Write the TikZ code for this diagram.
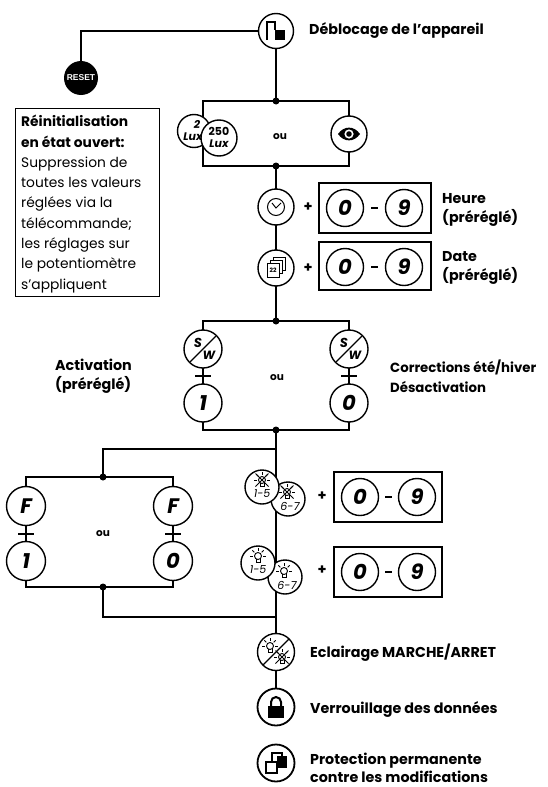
\documentclass[tikz,border=0pt]{standalone}
\usepackage{fontspec}
\setmainfont{Poppins}
\newfontfamily\arialf{Liberation Sans}
\usetikzlibrary{backgrounds,calc}
\newcommand\lblfont{\fontsize{14.3}{19.5}\selectfont\bfseries}
\newcommand\digfont{\fontsize{21}{21}\selectfont\bfseries\itshape}
\newcommand\smfont{\fontsize{11}{11}\selectfont\bfseries\itshape}
\newcommand\lampon[1]{%
  \begin{scope}[shift={#1},line width=0.9pt]
    \draw (0,0) circle (3.5);
    \draw (-2,3.3) -- (-2,6) -- (2,6) -- (2,3.3);
    \foreach \a in {0,45,90,135,180} {\draw ({5.3*cos(\a)},{-5.3*sin(\a)}) -- ({8*cos(\a)},{-8*sin(\a)});}
  \end{scope}}
\newcommand\lampoff[1]{%
  \begin{scope}[shift={#1},line width=0.9pt]
    \draw (0,0) circle (3.5);
    \draw (-2,3.3) -- (-2,6) -- (2,6) -- (2,3.3);
    \foreach \a in {0,45,90,135,180} {\draw ({5.3*cos(\a)},{-5.3*sin(\a)}) -- ({8*cos(\a)},{-8*sin(\a)});}
    \draw (-6.5,-6.5) -- (6.5,6.5) (6.5,-6.5) -- (-6.5,6.5);
  \end{scope}}
\begin{document}
\begin{tikzpicture}[x=1pt,y=-1pt,
  conn/.style={line width=2.4pt},
  circ/.style={circle,draw,fill=white,line width=1.4pt,minimum size=35pt,inner sep=0pt},
  digit/.style={circ,minimum size=37pt,font=\digfont},
  jdot/.style={circle,fill,inner sep=0pt,minimum size=7pt},
  lbl/.style={anchor=west,align=left,font=\lblfont,inner sep=0pt},
  digbox/.style={draw,line width=2.4pt,minimum width=112pt,minimum height=50pt,inner sep=0pt},
  oulbl/.style={font=\fontsize{10.5}{10.5}\selectfont\bfseries,inner sep=0pt},
  daylbl/.style={font=\fontsize{11}{11}\selectfont\itshape,inner sep=0pt},
  tickmk/.style={line width=2pt}]
\useasboundingbox (0,0) rectangle (547,787);

% ---------- coordinates ----------
\coordinate (dcorner) at (81,31);
\coordinate (j1) at (276,101);
\coordinate (j2) at (276,166);
\coordinate (b1a) at (203,101);
\coordinate (b1b) at (349,166);
\coordinate (j3) at (276,321);
\coordinate (j4) at (276,430);
\coordinate (b3a) at (203,321);
\coordinate (b3b) at (349,430);
\coordinate (j8) at (276,449);
\coordinate (k1) at (103,449);
\coordinate (j5) at (103,477);
\coordinate (j6) at (103,587);
\coordinate (b4a) at (26,477);
\coordinate (b4b) at (173,587);
\coordinate (k2) at (103,617);
\coordinate (j7) at (276,617);

% ---------- nodes ----------
\node[circ] (deb) at (276,31) {};
\begin{scope}[shift={(deb.center)}]
  \draw[line width=1.3pt] (-9,9) -- (-9,-9) -- (-1,-9) -- (-1,-1);
  \fill (-1,-1) rectangle (9,9);
\end{scope}
\node[lbl] (ldeb) at (309,31) {Déblocage de l’appareil};

\node[circle,fill=black,minimum size=34pt,inner sep=0pt,text=white,font=\arialf\fontsize{8.5}{8.5}\selectfont\bfseries] (reset) at (81,78) {RESET};

\node[draw,line width=1.3pt,minimum width=144pt,minimum height=188pt,anchor=north west,inner sep=0pt] (descbox) at (15,108) {};
\node[anchor=north west,align=left,inner sep=0pt,font=\fontsize{13.8}{20.3}\selectfont] (desc) at (21,115)
 {\textbf{Réinitialisation}\\\textbf{en état ouvert:}\\Suppression de\\toutes les valeurs\\réglées via la\\télécommande;\\les réglages sur\\le potentiomètre\\s’appliquent};

% box 1
\node[circ,minimum size=33pt] (lux1) at (194,131) {};
\node[font=\smfont,inner sep=0pt] at ($(lux1)+(3,-7)$) {2};
\node[font=\smfont,inner sep=0pt] at ($(lux1)+(-1,6)$) {Lux};
\node[circ,minimum size=36pt] (lux2) at (219,138) {};
\node[font=\fontsize{11}{11}\selectfont\bfseries,inner sep=0pt] at ($(lux2)+(0,-7)$) {250};
\node[font=\smfont,inner sep=0pt] at ($(lux2)+(0,6)$) {Lux};
\node[oulbl] (ou1) at (280,137) {ou};
\node[circ,minimum size=36pt] (eye) at (349,134) {};
\begin{scope}[shift={(eye.center)}]
  \fill (-11,0) .. controls (-5,-8.5) and (5,-8.5) .. (11,0) .. controls (5,8.5) and (-5,8.5) .. (-11,0);
  \fill[white] (0,0) circle (4.6);
  \fill (0,0) circle (2.8);
\end{scope}

% heure
\node[circ,minimum size=36pt] (clock) at (276,207) {};
\begin{scope}[shift={(clock.center)}]
  \draw[line width=1pt] (0,0) circle (8.5);
  \draw[line width=1pt] (-4,-4) -- (0,1) -- (5,-4);
\end{scope}
\node[font=\lblfont] (p1) at (308,207) {+};
\node[digbox] (hbox) at (375,208) {};
\node[digit] (h0) at (345,208) {0};
\node[digit] (h9) at (404,208) {9};
\draw[line width=1.4pt] ($(h0)!0.5!(h9)+(-3.5,0)$) -- +(7,0);
\node[lbl] (lheure) at (442,210) {Heure\\(préréglé)};

% date
\node[circ,minimum size=36pt] (cal) at (276,268) {};
\begin{scope}[shift={(cal.center)},line width=0.9pt]
  \draw[fill=white] (-3,-11) rectangle (9,2);
  \draw[fill=white] (-6,-8) rectangle (6,5);
  \draw[fill=white] (-9,-5) rectangle (3,9);
  \node[font=\fontsize{6}{6}\selectfont\bfseries,inner sep=0pt] at (-3,2.5) {22};
\end{scope}
\node[font=\lblfont] (p2) at (308,268) {+};
\node[digbox,minimum height=48pt] (dbox) at (375,266) {};
\node[digit] (d0) at (345,267) {0};
\node[digit] (d9) at (404,267) {9};
\draw[line width=1.4pt] ($(d0)!0.5!(d9)+(-3.5,0)$) -- +(7,0);
\node[lbl] (ldate) at (442,268) {Date\\(préréglé)};

% box 3
\node[circ,minimum size=38pt] (swl) at (203,349) {};
\node[circ,minimum size=38pt] (swr) at (349,349) {};
\foreach \n in {swl,swr}{
  \draw[line width=1.2pt] ($(\n)+(-13,13)$) -- ($(\n)+(13,-13)$);
  \node[font=\fontsize{13}{13}\selectfont\bfseries\itshape,inner sep=0pt] at ($(\n)+(-5,-6)$) {S};
  \node[font=\fontsize{12}{12}\selectfont\bfseries\itshape,inner sep=0pt] at ($(\n)+(6,6)$) {W};
}
\node[digit,minimum size=38pt] (onel) at (203,403) {1};
\node[digit,minimum size=38pt] (zeror) at (349,403) {0};
\node[oulbl] (ou3) at (277,378) {ou};
\node[lbl] (lact) at (55,376) {Activation\\(préréglé)};
\node[lbl,font=\fontsize{13.3}{19.5}\selectfont\bfseries] (lcorr) at (390,376) {Corrections été/hiver\\Désactivation};

% box 4
\node[circ,minimum size=39pt,font=\digfont] (fl) at (26,506) {F};
\node[circ,minimum size=39pt,font=\digfont] (fr) at (173,506) {F};
\node[digit,minimum size=39pt] (one4) at (26,561) {1};
\node[digit,minimum size=39pt] (zero4) at (173,561) {0};
\node[oulbl] (ou4) at (103,534) {ou};

% night
\node[circ,minimum size=34pt] (n2) at (288,499) {};
\lampoff{($(n2)+(-1,-7)$)}
\node[daylbl] at ($(n2)+(2,7)$) {6-7};
\node[circ,minimum size=34pt] (n1) at (262,487) {};
\lampoff{($(n1)+(0,-7)$)}
\node[daylbl] at ($(n1)+(0,7)$) {1-5};
\node[font=\lblfont] (p3) at (322,496) {+};
\node[digbox,minimum width=108pt] (nbox) at (388,497) {};
\node[digit] (n0) at (360,497) {0};
\node[digit] (n9) at (417,497) {9};
\draw[line width=1.4pt] ($(n0)!0.5!(n9)+(-3.5,0)$) -- +(7,0);

% sun
\node[circ,minimum size=34pt] (s2) at (285,577) {};
\lampon{($(s2)+(-1,-6)$)}
\node[daylbl] at ($(s2)+(2,8)$) {6-7};
\node[circ,minimum size=34pt] (s1) at (258,563) {};
\lampon{($(s1)+(0,-7)$)}
\node[daylbl] at ($(s1)+(0,7)$) {1-5};
\node[font=\lblfont] (p4) at (322,570) {+};
\node[digbox,minimum width=108pt] (sbox) at (388,572) {};
\node[digit] (s0) at (360,572) {0};
\node[digit] (s9) at (417,572) {9};
\draw[line width=1.4pt] ($(s0)!0.5!(s9)+(-3.5,0)$) -- +(7,0);

% bottom
\node[circ,minimum size=37pt] (ecl) at (276,652) {};
\draw[line width=1.2pt] ($(ecl)+(-13,13)$) -- ($(ecl)+(13,-13)$);
\lampon{($(ecl)+(-6,-6)$)}
\lampoff{($(ecl)+(6,5)$)}
\node[lbl] (lecl) at (310,653) {Eclairage MARCHE/ARRET};

\node[circ,minimum size=37pt,line width=1.8pt] (lock) at (276,707) {};
\begin{scope}[shift={(lock.center)}]
  \draw[line width=2pt] (-5,0) -- (-5,-5) arc (180:360:5) -- (5,0);
  \fill (-8,-1) rectangle (8,11);
\end{scope}
\node[lbl] (llock) at (310,709) {Verrouillage des données};

\node[circ,minimum size=37pt,line width=1.8pt] (prot) at (276,763) {};
\begin{scope}[shift={(prot.center)},line width=1.5pt]
  \draw[fill=white] (-4,-10) rectangle (6,0);
  \fill (1,-7) rectangle (11,5);
  \draw[fill=white] (-10,-1) rectangle (1,10);
\end{scope}
\node[lbl,font=\fontsize{14.3}{18.5}\selectfont\bfseries] (lprot) at (310,768) {Protection permanente\\contre les modifications};

% ---------- connectors ----------
\begin{scope}[on background layer]
  \draw[conn] (deb.center) -- (dcorner) -- (reset.center);
  \draw[conn] (deb.center) -- (j1);
  \draw[conn] (b1a) rectangle (b1b);
  \draw[conn] (j2) -- (clock.center) -- (cal.center) -- (j3);
  \draw[conn] (b3a) rectangle (b3b);
  \draw[conn] (j4) -- (j7) -- (ecl.center) -- (lock.center);
  \draw[conn] (j8) -- (k1) -- (j5);
  \draw[conn] (b4a) rectangle (b4b);
  \draw[conn] (j6) -- (k2) -- (j7);
\end{scope}
\node[jdot] at (j1) {};
\node[jdot] at (j2) {};
\node[jdot] at (j3) {};
\node[jdot] at (j4) {};
\node[jdot] at (j5) {};
\node[jdot] at (j6) {};
\foreach \a/\b in {swl/onel,swr/zeror,fl/one4,fr/zero4}{
  \draw[tickmk] ($(\a)!0.5!(\b)+(-8,0)$) -- ($(\a)!0.5!(\b)+(8,0)$);
}
\end{tikzpicture}
\end{document}
